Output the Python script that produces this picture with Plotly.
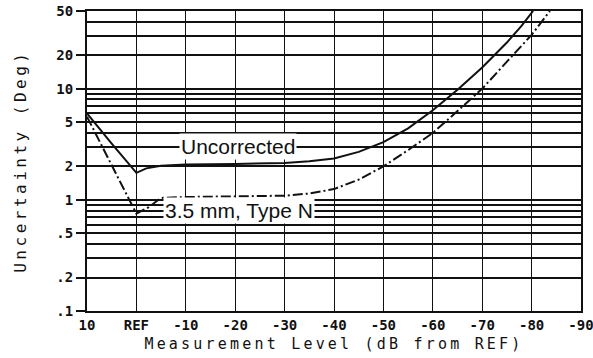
import plotly.graph_objects as go
import math

# ---- data ----
x_uncorr = [10, 5, 0, -2, -5, -10, -20, -30, -35, -40, -45, -50, -55, -60, -65, -70, -75, -78, -80.3]
y_uncorr = [6.0, 3.2, 1.75, 1.92, 2.03, 2.08, 2.1, 2.15, 2.22, 2.36, 2.7, 3.3, 4.4, 6.4, 9.8, 15.5, 26, 37, 50]

x_typen = [10, 0, -2.5, -5, -10, -20, -30, -35, -40, -45, -50, -55, -60, -65, -70, -75, -80, -83.7]
y_typen = [5.6, 0.75, 0.86, 1.04, 1.06, 1.07, 1.09, 1.14, 1.25, 1.52, 2.0, 2.8, 4.0, 6.3, 10.0, 17.5, 30.5, 50]

x_tickvals = [10, 0, -10, -20, -30, -40, -50, -60, -70, -80, -90]
x_ticktext = ["10", "REF", "-10", "-20", "-30", "-40", "-50", "-60", "-70", "-80", "-90"]

y_tickvals = [0.1, 0.2, 0.5, 1, 2, 5, 10, 20, 50]
y_ticktext = [".1", ".2", ".5", "1", "2", "5", "10", "20", "50"]
y_minorvals = [0.3, 0.4, 0.6, 0.7, 0.8, 0.9, 3, 4, 6, 7, 8, 9, 30, 40]

label_uncorr = ("Uncorrected", -20.5, 3.0)
label_typen = ("3.5 mm, Type N", -20.8, 0.8)

INK = "#111111"
MONO = "DejaVu Sans Mono"

fig = go.Figure()
fig.add_trace(go.Scatter(x=x_uncorr, y=y_uncorr, mode="lines",
                         line=dict(color=INK, width=2), showlegend=False))
fig.add_trace(go.Scatter(x=x_typen, y=y_typen, mode="lines",
                         line=dict(color=INK, width=2, dash="10px,3px,2px,3px"), showlegend=False))

for txt, xv, yv in (label_uncorr, label_typen):
    fig.add_annotation(x=xv, y=math.log10(yv), xref="x", yref="y", text=txt,
                       showarrow=False, bgcolor="white", borderpad=1,
                       font=dict(family="Liberation Sans, Arial", size=21, color=INK))

fig.add_annotation(x=0.5, y=-0.11, xref="paper", yref="paper",
                   text="Measurement Level (dB from REF)", showarrow=False,
                   xanchor="center", yanchor="middle",
                   font=dict(family=MONO, size=15, color=INK))
fig.add_annotation(x=-0.1356, y=0.5, xref="paper", yref="paper",
                   text="Uncertainty (Deg)", showarrow=False, textangle=-90,
                   xanchor="center", yanchor="middle",
                   font=dict(family=MONO, size=16, color=INK))

fig.update_layout(
    template="none",
    width=593, height=358,
    margin=dict(l=87, r=12, t=11, b=47, autoexpand=False),
    paper_bgcolor="white", plot_bgcolor="white",
    xaxis=dict(range=[10, -90], tickmode="array", tickvals=x_tickvals, ticktext=x_ticktext,
               automargin=False, ticklabeloverflow="allow",
               showgrid=True, gridcolor=INK, gridwidth=1.4, zeroline=False,
               showline=True, linecolor=INK, linewidth=2, mirror=True, ticks="",
               tickfont=dict(family=MONO, size=14, color=INK, weight="bold")),
    yaxis=dict(type="log", range=[-1, math.log10(50)], tickmode="array",
               tickvals=y_tickvals, ticktext=y_ticktext, automargin=False,
               ticklabeloverflow="allow",
               showgrid=True, gridcolor=INK, gridwidth=1.8, zeroline=False,
               showline=True, linecolor=INK, linewidth=2, mirror=True,
               ticks="outside", ticklen=9, tickwidth=2, tickcolor=INK,
               tickfont=dict(family=MONO, size=14, color=INK, weight="bold"),
               minor=dict(tickmode="array", tickvals=y_minorvals, showgrid=True,
                          gridcolor=INK, gridwidth=1.6, ticks="")),
)

post = """
document.body.style.margin = '0';
document.body.style.padding = '0';
document.querySelectorAll('.annotation-text').forEach(function(t){
  if (t.textContent.indexOf('Measurement') >= 0) t.setAttribute('letter-spacing', '3.2px');
  if (t.textContent.indexOf('Uncertainty') >= 0) t.setAttribute('letter-spacing', '3.5px');
});
"""
fig.write_html("out.html", post_script=post, config={"displayModeBar": False})
